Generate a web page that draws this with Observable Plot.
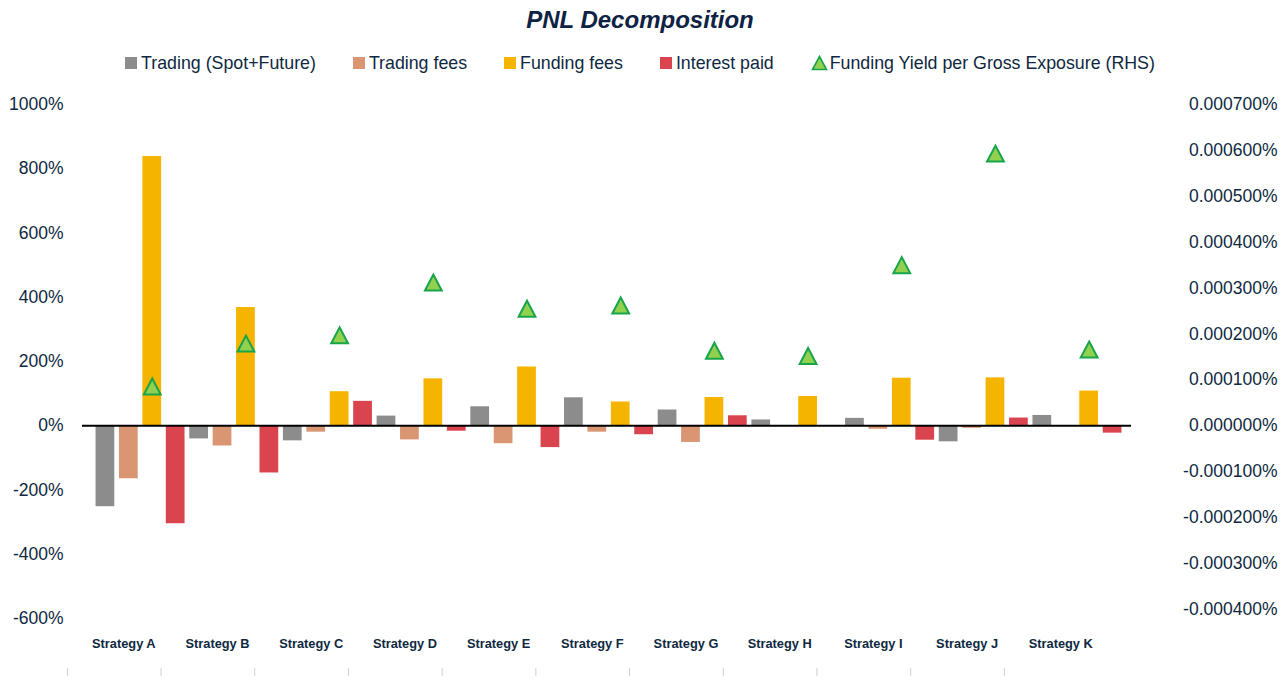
<!DOCTYPE html>
<html><head><meta charset="utf-8">
<script src="https://cdn.jsdelivr.net/npm/d3@7"></script>
<script src="https://cdn.jsdelivr.net/npm/@observablehq/plot@0.6"></script>
<style>
body{margin:0;background:#fff;font-family:"Liberation Sans",Arial,sans-serif;color:#0e2841;}
#title{height:40px;line-height:40px;text-align:center;font-size:24px;font-weight:bold;font-style:italic;color:#0e2244;}
#legend{height:46px;display:flex;justify-content:center;align-items:center;gap:37px;font-size:17.8px;color:#0e2841;}
.item{display:flex;align-items:center;gap:4px;white-space:nowrap}
.sw{width:12px;height:12px;display:inline-block}
#chart svg{display:block}
</style></head><body>
<div id="title">PNL Decomposition</div>
<div id="legend"></div>
<div id="chart"></div>
<script>
const strategies = ["Strategy A","Strategy B","Strategy C","Strategy D","Strategy E","Strategy F","Strategy G","Strategy H","Strategy I","Strategy J","Strategy K"];
const seriesNames = ["Trading (Spot+Future)","Trading fees","Funding fees","Interest paid"];
const seriesColors = ["#8c8c8c","#da9672","#f5b400","#d9444f"];
const yieldName = "Funding Yield per Gross Exposure (RHS)";

// values in %
const tradingSpotFuture = [-252, -41, -47, 30, 59, 87, 49, 18, 23, -50, 32];
const tradingFees       = [-165, -63, -20, -44, -56, -20, -52, -1.5, -11, -8, -3];
const fundingFees       = [838, 368, 106, 146, 183, 74, 88, 91, 148, 149, 108];
const interestPaid      = [-305, -147, 76, -17, -68, -28, 31, -1.5, -45, 24, -23];
// RHS, in %
const fundingYield = [0.0000855, 0.000179, 0.000197, 0.000312, 0.000255, 0.000262, 0.0001635, 0.000152, 0.00035, 0.000593, 0.000166];

const leftTicks = [-600, -400, -200, 0, 200, 400, 600, 800, 1000];
const rightTicks = [-0.0004, -0.0003, -0.0002, -0.0001, 0, 0.0001, 0.0002, 0.0003, 0.0004, 0.0005, 0.0006, 0.0007];

const K = 1000 / 0.0007; // RHS -> LHS scale factor
const seriesValues = [tradingSpotFuture, tradingFees, fundingFees, interestPaid];

const keys = [];
const rows = [];
strategies.forEach((s, i) => {
  seriesNames.forEach((n, j) => {
    const key = s + "|" + n;
    keys.push(key);
    rows.push({strategy: s, series: n, key, value: seriesValues[j][i]});
  });
});
const yieldRows = strategies.map((s, i) => ({key: s + "|Funding fees", y: fundingYield[i] * K}));

const tri = {
  draw(context, size) {
    const r = Math.sqrt(size / Math.PI);
    const w = r * 1.05, h = r;
    context.moveTo(0, -h);
    context.lineTo(w, h);
    context.lineTo(-w, h);
    context.closePath();
  }
};

// legend
const legend = document.getElementById("legend");
seriesNames.forEach((n, j) => {
  const it = document.createElement("div");
  it.className = "item";
  it.innerHTML = `<span class="sw" style="background:${seriesColors[j]}"></span><span>${n}</span>`;
  legend.appendChild(it);
});
{
  const it = document.createElement("div");
  it.className = "item";
  it.style.gap = "2px";
  it.innerHTML = `<svg width="17" height="16" viewBox="0 0 17 16"><polygon points="8.5,1.5 15.5,14.5 1.5,14.5" fill="#92d050" stroke="#17a44a" stroke-width="1.6"/></svg><span>${yieldName}</span>`;
  legend.appendChild(it);
}

const chart = Plot.plot({
  width: 1280,
  height: 593,
  marginLeft: 82,
  marginRight: 149,
  marginTop: 18,
  marginBottom: 61,
  x: {type: "band", domain: keys, range: [93.2, 1123.8], paddingInner: 0.2, paddingOuter: 0.1, round: false, axis: null},
  y: {domain: [-600, 1000], axis: null},
  color: {domain: seriesNames, range: seriesColors},
  style: {fontFamily: "'Liberation Sans', Arial, sans-serif", color: "#0e2841", background: "white"},
  marks: [
    Plot.barY(rows, {x: "key", y: "value", fill: "series"}),
    Plot.ruleY([0], {stroke: "#000", strokeWidth: 2}),
    Plot.axisY(leftTicks, {anchor: "left", tickSize: 0, tickPadding: 19, tickFormat: d => d + "%", fontSize: 17.5}),
    Plot.axisY(rightTicks.map(v => v * K), {anchor: "right", tickSize: 0, tickPadding: 146, textAnchor: "end", tickFormat: d => (d / K).toFixed(6) + "%", fontSize: 17.5}),
    Plot.dot(yieldRows, {x: "key", y: "y", symbol: tri, r: 8, fill: "#92d050", stroke: "#17a44a", strokeWidth: 2}),
    Plot.text(strategies, {x: s => s + "|Trading fees", frameAnchor: "bottom", lineAnchor: "middle", dy: 25, dx: -5, text: d => d, fontWeight: "bold", fontSize: 12.8, fill: "#0e2841"}),
    Plot.ruleX(strategies, {x: s => s + "|Trading (Spot+Future)", dx: -38, insetTop: 564, insetBottom: -58, stroke: "#d0d0d0"})
  ]
});
document.getElementById("chart").appendChild(chart);
</script>
</body></html>
